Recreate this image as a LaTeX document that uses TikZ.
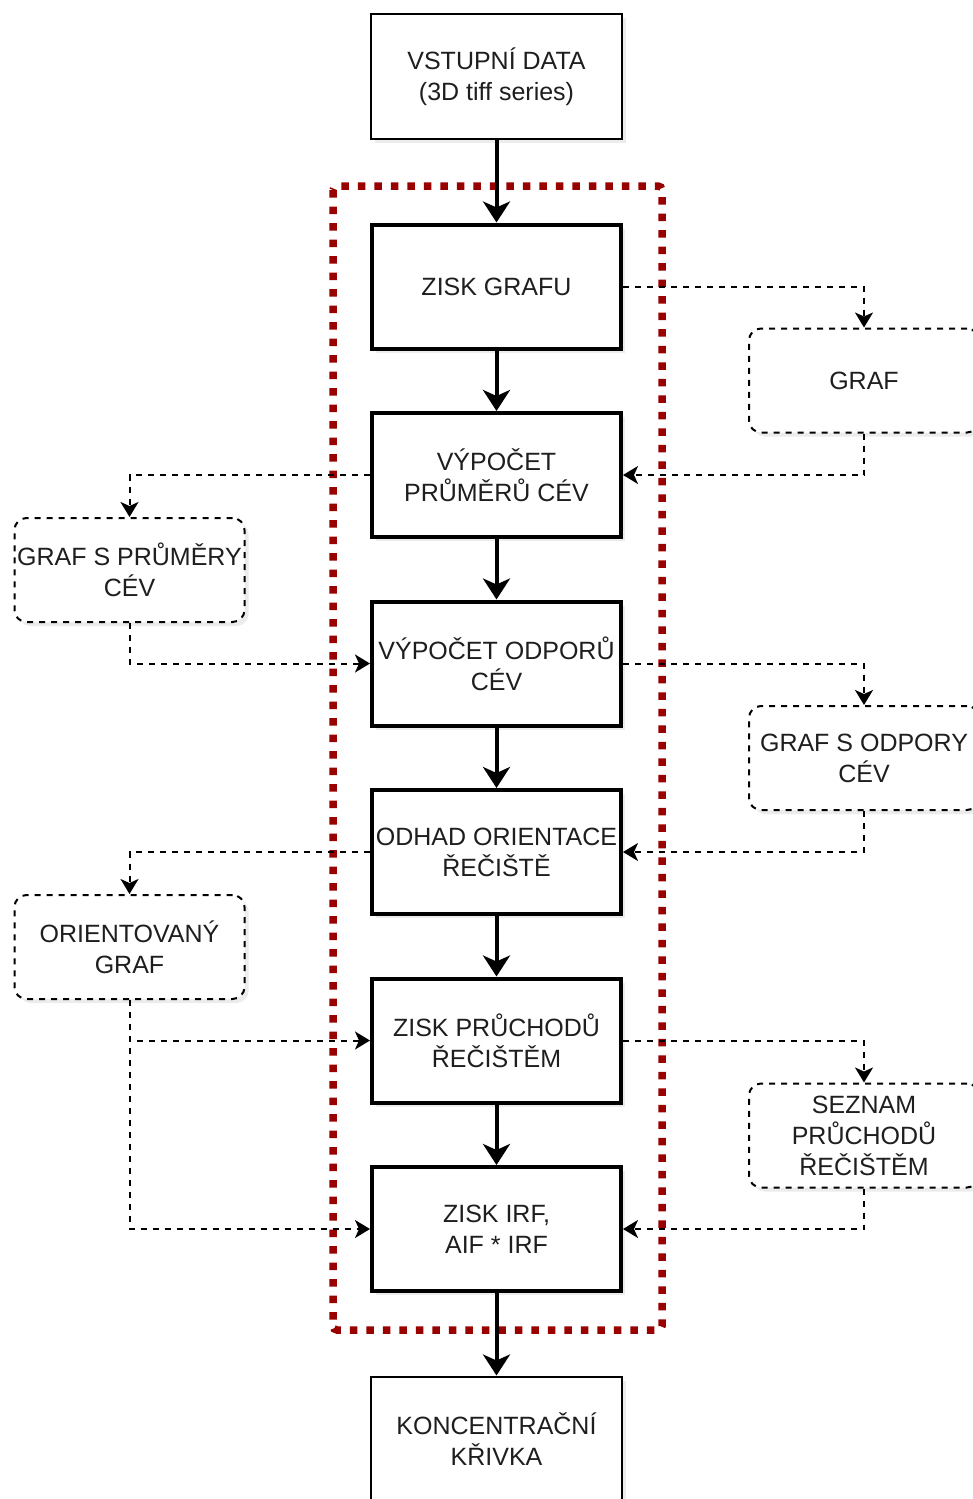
\documentclass[tikz,border=0pt]{standalone}
\usepackage{fontspec}
\setmainfont{Liberation Sans}
\usetikzlibrary{arrows.meta,shadows}
\definecolor{dred}{RGB}{153,0,0}
\definecolor{txt}{RGB}{30,30,30}
\begin{document}
\begin{tikzpicture}[x=1pt,y=-1pt,
  every node/.style={font=\fontsize{25}{31}\selectfont, align=center, inner sep=0pt, text=txt},
  shad/.style={drop shadow={opacity=0.15, shadow xshift=4pt, shadow yshift=-4pt}},
  mainbox/.style={draw, line width=4pt, fill=white, minimum width=249pt, minimum height=124pt, shad},
  endbox/.style={draw, line width=2pt, fill=white, minimum width=251pt, minimum height=125pt, shad},
  databox/.style={draw, line width=2pt, dash pattern=on 6pt off 6pt, rounded corners=12pt, fill=white, minimum width=230pt, minimum height=104pt, shad},
  flow/.style={line width=4pt, -{Stealth[length=21pt,width=27pt,inset=6pt]}},
  dcon/.style={line width=2pt, dash pattern=on 6pt off 6pt, -{Stealth[length=15pt,width=18pt,inset=4pt]}},
  redframe/.style={dred, line width=7.5pt, dash pattern=on 7.5pt off 9pt, rounded corners=4pt}
]
\useasboundingbox (0,0) rectangle (972,1499);
\fill[white] (0,0) rectangle (972,1499);

\draw[redframe] (333,186) rectangle (662,1330);

\node[endbox] (in) at (496.5,76.5) {VSTUPNÍ DATA\\(3D tiff series)};
\node[mainbox] (zg) at (496.5,286.5) {ZISK GRAFU};
\node[mainbox] (vp) at (496.5,475) {VÝPOČET\\PRŮMĚRŮ CÉV};
\node[mainbox] (vo) at (496.5,663.5) {VÝPOČET ODPORŮ\\CÉV};
\node[mainbox] (oo) at (496.5,852) {ODHAD ORIENTACE\\ŘEČIŠTĚ};
\node[mainbox] (zp) at (496.5,1040.5) {ZISK PRŮCHODŮ\\ŘEČIŠTĚM};
\node[mainbox] (zi) at (496.5,1229) {ZISK IRF,\\AIF * IRF};
\node[endbox] (kk) at (496.5,1439) {KONCENTRAČNÍ\\KŘIVKA};

\node[databox] (graf) at (864,380.5) {GRAF};
\node[databox] (gso) at (864,758) {GRAF S ODPORY\\CÉV};
\node[databox] (sez) at (864,1135.5) {SEZNAM\\PRŮCHODŮ\\ŘEČIŠTĚM};
\node[databox] (gsp) at (129.5,570) {GRAF S PRŮMĚRY\\CÉV};
\node[databox] (og) at (129.5,947) {ORIENTOVANÝ\\GRAF};

\draw[flow] (in) -- (zg);
\draw[flow] (zg) -- (vp);
\draw[flow] (vp) -- (vo);
\draw[flow] (vo) -- (oo);
\draw[flow] (oo) -- (zp);
\draw[flow] (zp) -- (zi);
\draw[flow] (zi) -- (kk);

\draw[dcon] (zg.east) -| (graf.north);
\draw[dcon] (graf.south) |- (vp.east);
\draw[dcon] (vp.west) -| (gsp.north);
\draw[dcon] (gsp.south) |- (vo.west);
\draw[dcon] (vo.east) -| (gso.north);
\draw[dcon] (gso.south) |- (oo.east);
\draw[dcon] (oo.west) -| (og.north);
\draw[dcon] (og.south) |- (zp.west);
\draw[dcon] (og.south) |- (zi.west);
\draw[dcon] (zp.east) -| (sez.north);
\draw[dcon] (sez.south) |- (zi.east);
\end{tikzpicture}
\end{document}
